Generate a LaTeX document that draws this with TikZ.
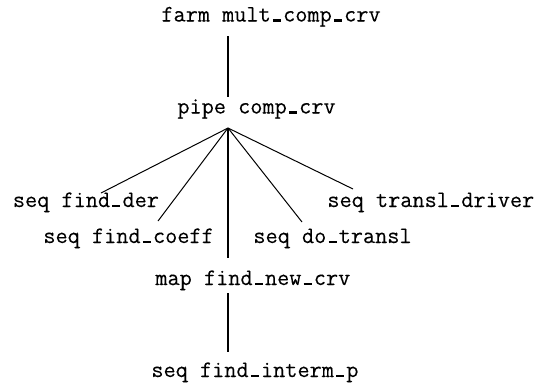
\documentclass[tikz,border=0pt]{standalone}
\usepackage{fontspec}
\setmonofont[FakeBold=0.2]{Latin Modern Mono}
% typewriter underscore drawn as a short rule on the baseline, one cell wide
\newcommand\us{\makebox[0.525em][c]{\rule{0.34em}{1.2pt}}}
\begin{document}
\begin{tikzpicture}[x=0.5pt,y=-0.5pt,
  lbl/.style={inner sep=0pt, anchor=base west,
              font=\fontsize{11.8}{14}\selectfont\ttfamily},
  trunk/.style={line width=1.1pt},
  branch/.style={line width=0.5pt}]
\useasboundingbox (0,0) rectangle (542,386);

% labels of the tree
\node[lbl] (farm)   at (161,21.5)  {farm mult\us comp\us crv};
\node[lbl] (pipe)   at (177,113.5) {pipe comp\us crv};
\node[lbl] (der)    at (12.5,207)  {seq find\us der};
\node[lbl] (coeff)  at (43,243)    {seq find\us coeff};
\node[lbl] (dotr)   at (253,243)   {seq do\us transl};
\node[lbl] (driver) at (327,207)   {seq transl\us driver};
\node[lbl] (newcrv) at (155,285)   {map find\us new\us crv};
\node[lbl] (interm) at (151,377)   {seq find\us interm\us p};

% end points of the edges
\coordinate (farm-foot)   at (228,36);
\coordinate (pipe-head)   at (228,97);
\coordinate (apex)        at (228,128);
\coordinate (der-top)     at (101,193);
\coordinate (coeff-top)   at (158,221);
\coordinate (newcrv-head) at (228,258);
\coordinate (dotr-top)    at (302,222);
\coordinate (driver-top)  at (353,189);
\coordinate (newcrv-foot) at (228,293);
\coordinate (interm-head) at (228,352);

% edges
\draw[trunk]  (farm-foot) -- (pipe-head);
\draw[branch] (apex) -- (der-top);
\draw[branch] (apex) -- (coeff-top);
\draw[trunk]  (apex) -- (newcrv-head);
\draw[branch] (apex) -- (dotr-top);
\draw[branch] (apex) -- (driver-top);
\draw[trunk]  (newcrv-foot) -- (interm-head);
\end{tikzpicture}
\end{document}
